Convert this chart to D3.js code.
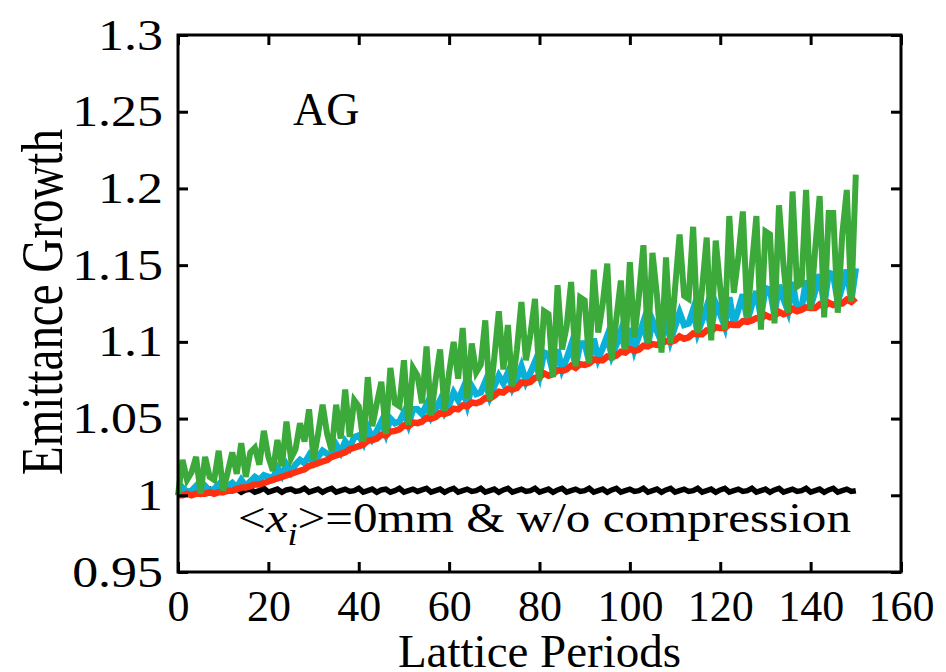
<!DOCTYPE html>
<html>
<head>
<meta charset="utf-8">
<script src="https://cdn.jsdelivr.net/npm/d3@7"></script>
<style>
  body { margin: 0; background: #fff; }
  svg { display: block; }
  text { font-family: "Liberation Serif", "Times New Roman", serif; fill: #000; }
</style>
</head>
<body>
<svg id="chart" width="946" height="672"></svg>
<script>
const xTicks = [0, 20, 40, 60, 80, 100, 120, 140, 160];
const yTicks = [0.95, 1, 1.05, 1.1, 1.15, 1.2, 1.25, 1.3];
const periods = d3.range(0, 151);

// <x_i>=0mm & w/o compression
const noOffset = [
  1.000, 1.001, 1.002, 1.003, 1.004, 1.002, 1.003, 1.004, 1.002, 1.003,
  1.004, 1.0025, 1.003, 1.004, 1.002, 1.0035, 1.004, 1.002, 1.003, 1.0045,
  1.002, 1.003, 1.004, 1.002, 1.0035, 1.004, 1.0025, 1.003, 1.0045, 1.002,
  1.003, 1.004, 1.002, 1.0035, 1.0045, 1.002, 1.003, 1.004, 1.0025, 1.003,
  1.0045, 1.002, 1.003, 1.004, 1.002, 1.0035, 1.004, 1.002, 1.003, 1.0045,
  1.002, 1.003, 1.004, 1.0025, 1.0035, 1.0045, 1.002, 1.003, 1.004, 1.002,
  1.0035, 1.0045, 1.002, 1.003, 1.004, 1.0025, 1.003, 1.0045, 1.002, 1.003,
  1.004, 1.002, 1.0035, 1.0045, 1.002, 1.003, 1.004, 1.0025, 1.003, 1.0045,
  1.002, 1.003, 1.004, 1.002, 1.0035, 1.0045, 1.002, 1.003, 1.004, 1.0025,
  1.003, 1.0045, 1.002, 1.003, 1.004, 1.002, 1.0035, 1.0045, 1.002, 1.003,
  1.004, 1.0025, 1.003, 1.0045, 1.002, 1.003, 1.004, 1.002, 1.0035, 1.0045,
  1.002, 1.003, 1.004, 1.0025, 1.003, 1.0045, 1.002, 1.003, 1.004, 1.002,
  1.0035, 1.0045, 1.002, 1.003, 1.004, 1.0025, 1.003, 1.0045, 1.002, 1.003,
  1.004, 1.002, 1.0035, 1.0045, 1.002, 1.003, 1.004, 1.0025, 1.003, 1.0045,
  1.002, 1.003, 1.004, 1.002, 1.0035, 1.0045, 1.002, 1.003, 1.004, 1.0025,
  1.003
];

const redSeries = [
  1.000, 1.000, 1.001, 1.000, 1.001, 1.001, 1.001, 1.002, 1.001, 1.002,
  1.002, 1.003, 1.003, 1.004, 1.005, 1.005, 1.006, 1.007, 1.007, 1.008,
  1.009, 1.010, 1.011, 1.012, 1.013, 1.014, 1.015, 1.016, 1.017, 1.019,
  1.020, 1.021, 1.022, 1.023, 1.025, 1.026, 1.027, 1.028, 1.030, 1.031,
  1.032, 1.033, 1.0355, 1.036, 1.037, 1.0395, 1.039, 1.0415, 1.042, 1.043,
  1.0455, 1.045, 1.0475, 1.047, 1.048, 1.0505, 1.050, 1.051, 1.0535, 1.053,
  1.054, 1.0565, 1.056, 1.0585, 1.058, 1.0605, 1.060, 1.061, 1.0635, 1.063,
  1.065, 1.0675, 1.067, 1.0695, 1.069, 1.070, 1.0735, 1.073, 1.074, 1.0765,
  1.077, 1.0795, 1.078, 1.079, 1.0815, 1.081, 1.082, 1.0845, 1.083, 1.0855,
  1.085, 1.086, 1.0885, 1.088, 1.088, 1.0905, 1.090, 1.091, 1.0935, 1.093,
  1.0955, 1.094, 1.095, 1.0975, 1.097, 1.0985, 1.098, 1.099, 1.1005, 1.100,
  1.101, 1.1035, 1.102, 1.103, 1.1055, 1.105, 1.105, 1.1075, 1.107, 1.1095,
  1.109, 1.109, 1.1115, 1.111, 1.111, 1.1135, 1.113, 1.114, 1.1155, 1.115,
  1.1175, 1.116, 1.117, 1.1195, 1.118, 1.119, 1.1215, 1.120, 1.121, 1.1225,
  1.122, 1.122, 1.1245, 1.123, 1.1255, 1.124, 1.125, 1.125, 1.1275, 1.126,
  1.1285
];

const blueSeries = [
  1.000, 1.005, 1.002, 1.003, 1.006, 1.002, 1.006, 1.003, 1.004, 1.007,
  1.003, 1.006, 1.008, 1.005, 1.010, 1.006, 1.009, 1.012, 1.010, 1.013,
  1.012, 1.011, 1.018, 1.013, 1.020, 1.015, 1.020, 1.023, 1.021, 1.026,
  1.021, 1.025, 1.029, 1.027, 1.026, 1.033, 1.028, 1.035, 1.031, 1.038,
  1.039, 1.034, 1.044, 1.037, 1.042, 1.048, 1.040, 1.050, 1.047, 1.048,
  1.054, 1.046, 1.056, 1.056, 1.053, 1.059, 1.051, 1.056, 1.062, 1.054,
  1.059, 1.067, 1.062, 1.069, 1.059, 1.071, 1.066, 1.067, 1.074, 1.064,
  1.071, 1.078, 1.073, 1.080, 1.070, 1.076, 1.084, 1.074, 1.080, 1.087,
  1.078, 1.093, 1.092, 1.080, 1.095, 1.082, 1.089, 1.098, 1.084, 1.099,
  1.099, 1.087, 1.102, 1.089, 1.096, 1.104, 1.091, 1.098, 1.107, 1.094,
  1.109, 1.095, 1.104, 1.113, 1.098, 1.114, 1.107, 1.100, 1.116, 1.101,
  1.110, 1.119, 1.111, 1.112, 1.121, 1.106, 1.114, 1.123, 1.108, 1.125,
  1.118, 1.110, 1.129, 1.112, 1.121, 1.131, 1.114, 1.124, 1.133, 1.116,
  1.135, 1.134, 1.118, 1.137, 1.128, 1.120, 1.139, 1.121, 1.122, 1.140,
  1.123, 1.133, 1.144, 1.124, 1.145, 1.144, 1.126, 1.136, 1.147, 1.127,
  1.148
];

const greenSeries = [
  1.000, 1.023, 1.010, 1.015, 1.025, 1.001, 1.025, 1.012, 1.010, 1.029,
  1.003, 1.015, 1.028, 1.014, 1.034, 1.012, 1.028, 1.031, 1.020, 1.042,
  1.025, 1.016, 1.036, 1.019, 1.048, 1.024, 1.030, 1.047, 1.035, 1.056,
  1.023, 1.040, 1.059, 1.040, 1.029, 1.059, 1.037, 1.069, 1.038, 1.062,
  1.058, 1.035, 1.077, 1.045, 1.060, 1.074, 1.040, 1.083, 1.060, 1.058,
  1.088, 1.046, 1.083, 1.078, 1.060, 1.097, 1.052, 1.075, 1.095, 1.055,
  1.080, 1.100, 1.076, 1.109, 1.063, 1.099, 1.080, 1.085, 1.114, 1.062,
  1.090, 1.120, 1.082, 1.111, 1.071, 1.095, 1.126, 1.088, 1.105, 1.128,
  1.075, 1.120, 1.118, 1.077, 1.137, 1.095, 1.110, 1.139, 1.084, 1.129,
  1.127, 1.086, 1.147, 1.106, 1.125, 1.151, 1.088, 1.115, 1.140, 1.095,
  1.152, 1.103, 1.130, 1.163, 1.099, 1.158, 1.130, 1.093, 1.155, 1.099,
  1.135, 1.170, 1.130, 1.128, 1.175, 1.106, 1.135, 1.168, 1.101, 1.166,
  1.135, 1.108, 1.182, 1.132, 1.155, 1.185, 1.116, 1.150, 1.182, 1.108,
  1.172, 1.170, 1.112, 1.189, 1.150, 1.119, 1.198, 1.136, 1.138, 1.199,
  1.121, 1.160, 1.195, 1.116, 1.184, 1.184, 1.119, 1.170, 1.199, 1.126,
  1.209
];

const seriesNames  = ['noOffset', 'blue', 'red', 'green'];
const seriesValues = [noOffset, blueSeries, redSeries, greenSeries];
const seriesColors = ['#000000', '#0ab0d8', '#ff3010', '#3caa3a'];
const seriesWidths = [5.5, 6.5, 6.5, 6];

const plot = { left: 178, right: 901, top: 35, bottom: 572 };

const svg = d3.select('#chart');

const x = d3.scaleLinear().domain([0, 160]).range([plot.left, plot.right]);
const y = d3.scaleLinear().domain([0.95, 1.3]).range([plot.bottom, plot.top]);

const fmt = d => String(+d.toFixed(2));

// lines
const line = d3.line()
  .x((d, i) => x(periods[i]))
  .y(d => y(d));

svg.append('g')
  .selectAll('path')
  .data(seriesValues)
  .join('path')
  .attr('class', (d, i) => 'series ' + seriesNames[i])
  .attr('fill', 'none')
  .attr('stroke', (d, i) => seriesColors[i])
  .attr('stroke-width', (d, i) => seriesWidths[i])
  .attr('stroke-linejoin', 'miter')
  .attr('d', line);

// axes, ticks pointing inward on all four sides
const axisStyle = g => {
  g.select('.domain').remove();
  g.selectAll('line').attr('stroke', '#000').attr('stroke-width', 3);
  g.selectAll('text').attr('font-size', 44).attr('font-family', '"Liberation Serif", serif');
};

svg.append('g')
  .attr('transform', `translate(0,${plot.bottom})`)
  .call(d3.axisBottom(x).tickValues(xTicks).tickSize(-10).tickPadding(18).tickFormat(fmt))
  .call(axisStyle);

svg.append('g')
  .attr('transform', `translate(0,${plot.top})`)
  .call(d3.axisTop(x).tickValues(xTicks).tickSize(-10).tickFormat(''))
  .call(axisStyle);

svg.append('g')
  .attr('transform', `translate(${plot.left},0)`)
  .call(d3.axisLeft(y).tickValues(yTicks).tickSize(-10).tickPadding(15).tickFormat(fmt))
  .call(axisStyle)
  .call(g => g.selectAll('text')
    .attr('x', 0)
    .attr('transform', 'translate(-15,0) scale(1.18,1)'));

svg.append('g')
  .attr('transform', `translate(${plot.right},0)`)
  .call(d3.axisRight(y).tickValues(yTicks).tickSize(-10).tickFormat(''))
  .call(axisStyle);

svg.append('rect')
  .attr('x', plot.left)
  .attr('y', plot.top)
  .attr('width', plot.right - plot.left)
  .attr('height', plot.bottom - plot.top)
  .attr('fill', 'none')
  .attr('stroke', '#000')
  .attr('stroke-width', 3);

// axis titles
svg.append('text')
  .attr('x', (plot.left + plot.right) / 2)
  .attr('y', 667)
  .attr('text-anchor', 'middle')
  .attr('font-size', 47)
  .text('Lattice Periods');

svg.append('text')
  .attr('transform', 'translate(62,302) scale(1.28,1) rotate(-90)')
  .attr('text-anchor', 'middle')
  .attr('font-size', 47)
  .text('Emittance Growth');

// panel label
svg.append('text')
  .attr('x', 293)
  .attr('y', 125)
  .attr('font-size', 46)
  .text('AG');

// annotation
const note = svg.append('text')
  .attr('transform', 'translate(238,532) scale(1.17,1)')
  .attr('font-size', 42);
note.append('tspan').text('<');
note.append('tspan').attr('font-style', 'italic').text('x');
note.append('tspan').attr('font-style', 'italic').attr('font-size', 31).attr('dy', 13).text('i');
note.append('tspan').attr('dy', -13).text('>=0mm & w/o compression');
</script>
</body>
</html>
